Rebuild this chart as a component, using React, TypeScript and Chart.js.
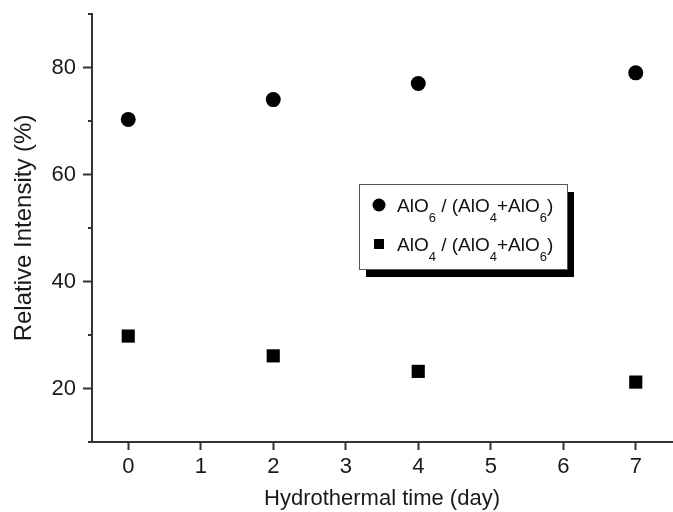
import React, { useEffect, useRef } from 'react';
import { Chart, registerables } from 'chart.js';

Chart.register(...registerables);

// ---- data ----
const days = [0, 2, 4, 7];
const alo6Ratio = [70.3, 74.0, 77.0, 79.0];
const alo4Ratio = [29.8, 26.1, 23.2, 21.2];
const xTickValues = [0, 1, 2, 3, 4, 5, 6, 7];
const yTickValues = [10, 20, 30, 40, 50, 60, 70, 80, 90];
const yMajorValues = [20, 40, 60, 80];
const xTitle = 'Hydrothermal time (day)';
const yTitle = 'Relative Intensity (%)';
// legend labels, split in normal / subscript parts
const legendAlO6 = [
  { t: 'AlO' }, { t: '6', sub: true }, { t: ' / (AlO' }, { t: '4', sub: true },
  { t: '+AlO' }, { t: '6', sub: true }, { t: ')' },
];
const legendAlO4 = [
  { t: 'AlO' }, { t: '4', sub: true }, { t: ' / (AlO' }, { t: '4', sub: true },
  { t: '+AlO' }, { t: '6', sub: true }, { t: ')' },
];

const FONT = '"Liberation Sans", Arial, sans-serif';
const AXIS = '#333333';
const TEXT = '#1a1a1a';

const yTickPlugin = {
  id: 'yTicks',
  afterDraw(chart: any) {
    const ctx = chart.ctx;
    const ys = chart.scales.y;
    const left = chart.chartArea.left;
    ctx.save();
    ctx.strokeStyle = AXIS;
    ctx.lineWidth = 2;
    yTickValues.forEach((v) => {
      const py = ys.getPixelForValue(v);
      const len = yMajorValues.includes(v) ? 9 : 4;
      ctx.beginPath();
      ctx.moveTo(left, py);
      ctx.lineTo(left - len, py);
      ctx.stroke();
    });
    ctx.restore();
  },
};

const legendPlugin = {
  id: 'customLegend',
  afterDraw(chart: any) {
    const ctx = chart.ctx;
    const ca = chart.chartArea;
    const bx = ca.left + 267;
    const by = ca.top + 170;
    const bw = 208;
    const bh = 85;
    ctx.save();
    // shadow
    ctx.fillStyle = '#000';
    ctx.fillRect(bx + 7, by + 8, bw, bh);
    // box
    ctx.fillStyle = '#fff';
    ctx.fillRect(bx, by, bw, bh);
    ctx.strokeStyle = '#555';
    ctx.lineWidth = 1;
    ctx.strokeRect(bx + 0.5, by + 0.5, bw, bh);

    const drawRow = (parts: any[], y: number) => {
      let x = bx + 38;
      ctx.fillStyle = '#111';
      ctx.textBaseline = 'alphabetic';
      parts.forEach((p) => {
        if (p.sub) {
          ctx.font = `13px ${FONT}`;
          ctx.fillText(p.t, x, y + 17);
        } else {
          ctx.font = `19px ${FONT}`;
          ctx.fillText(p.t, x, y + 7);
        }
        x += ctx.measureText(p.t).width;
      });
    };
    // row 1 marker (circle)
    const r1 = by + 21;
    ctx.fillStyle = '#000';
    ctx.beginPath();
    ctx.arc(bx + 20, r1, 6.5, 0, Math.PI * 2);
    ctx.fill();
    drawRow(legendAlO6, r1);
    // row 2 marker (square)
    const r2 = by + 60;
    ctx.fillStyle = '#000';
    ctx.fillRect(bx + 15, r2 - 5, 10, 10);
    drawRow(legendAlO4, r2);
    ctx.restore();
  },
};

export default function App() {
  const ref = useRef<HTMLCanvasElement>(null);
  useEffect(() => {
    document.body.style.margin = '0';
    const chart = new Chart(ref.current!, {
      type: 'scatter',
      data: {
        datasets: [
          {
            label: 'AlO6 / (AlO4+AlO6)',
            data: days.map((d, i) => ({ x: d, y: alo6Ratio[i] })),
            pointStyle: 'circle',
            pointRadius: 7.5,
            pointHoverRadius: 7.5,
            backgroundColor: '#000',
            borderColor: '#000',
            borderWidth: 0,
          },
          {
            label: 'AlO4 / (AlO4+AlO6)',
            data: days.map((d, i) => ({ x: d, y: alo4Ratio[i] })),
            pointStyle: 'rect',
            pointRadius: 9.3,
            pointHoverRadius: 9.3,
            backgroundColor: '#000',
            borderColor: '#000',
            borderWidth: 0,
          },
        ],
      },
      options: {
        animation: false,
        responsive: false,
        maintainAspectRatio: false,
        layout: { autoPadding: false, padding: { top: 14, right: 1, left: 0, bottom: 0 } },
        plugins: { legend: { display: false }, tooltip: { enabled: false } },
        scales: {
          x: {
            type: 'linear',
            min: -0.5,
            max: 7.5,
            afterBuildTicks: (s: any) => {
              s.ticks = xTickValues.map((v) => ({ value: v }));
            },
            afterFit: (s: any) => {
              s.height = 70;
              s.paddingLeft = 0;
              s.paddingRight = 0;
            },
            border: { display: true, color: AXIS, width: 2 },
            grid: { drawOnChartArea: false, drawTicks: true, tickLength: 8, tickWidth: 2, tickColor: AXIS },
            ticks: { color: TEXT, font: { family: FONT, size: 22 }, padding: 4 },
            title: { display: true, text: xTitle, color: TEXT, font: { family: FONT, size: 22 }, padding: { top: 1, bottom: 0 } },
          },
          y: {
            type: 'linear',
            min: 10,
            max: 90,
            afterBuildTicks: (s: any) => {
              s.ticks = yTickValues.map((v) => ({ value: v }));
            },
            afterFit: (s: any) => {
              s.width = 92;
              s.paddingTop = 0;
              s.paddingBottom = 0;
            },
            border: { display: true, color: AXIS, width: 2 },
            grid: { drawOnChartArea: false, drawTicks: false },
            ticks: {
              color: TEXT,
              font: { family: FONT, size: 22 },
              padding: 16,
              callback: (v: any) => (yMajorValues.includes(Number(v)) ? String(v) : ''),
            },
            title: { display: true, text: yTitle, color: TEXT, font: { family: FONT, size: 24 }, padding: { top: 10, bottom: 0 } },
          },
        },
      },
      plugins: [yTickPlugin, legendPlugin],
    });
    return () => chart.destroy();
  }, []);
  return (
    <div style={{ width: 673, height: 512, position: 'relative' }}>
      <canvas ref={ref} width={673} height={512} style={{ display: 'block' }} />
    </div>
  );
}
